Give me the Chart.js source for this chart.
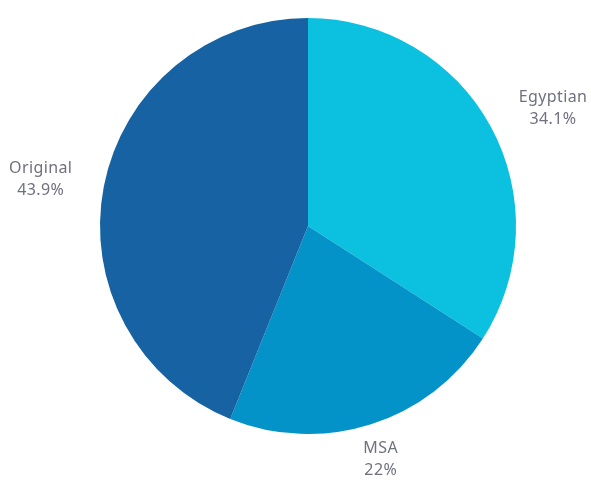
<!DOCTYPE html>
<html>
<head>
<meta charset="utf-8">
<script src="https://cdn.jsdelivr.net/npm/chart.js@4"></script>
<style>
  html, body { margin: 0; padding: 0; background: #fff; }
  #wrap { width: 591px; height: 482px; }
</style>
</head>
<body>
<div id="wrap"><canvas id="dialectChart" width="591" height="482"></canvas></div>
<script>
// Share of each dialect
const labels = ['Egyptian', 'MSA', 'Original'];
const shares = [34.1, 22, 43.9];
const colors = ['#0cc1df', '#0393c9', '#1662a2'];

// Draws "name / value%" just outside each slice, both lines centred on each other
const outsideLabels = {
    id: 'outsideLabels',
    afterDatasetsDraw(chart) {
        const ctx = chart.ctx;
        const meta = chart.getDatasetMeta(0);
        ctx.save();
        ctx.font = '16px "Noto Sans", sans-serif';
        ctx.letterSpacing = '0.4px';
        ctx.fillStyle = '#707080';
        ctx.textBaseline = 'middle';
        ctx.textAlign = 'center';
        meta.data.forEach((arc, i) => {
            const p = arc.getProps(['x', 'y', 'startAngle', 'endAngle', 'outerRadius'], true);
            const mid = (p.startAngle + p.endAngle) / 2;
            const r = p.outerRadius + 32;
            const c = Math.cos(mid);
            const s = Math.sin(mid);
            const lines = [labels[i], shares[i] + '%'];
            const w = Math.max(...lines.map(t => ctx.measureText(t).width));
            let x = p.x + c * r;
            const y = p.y + s * r + s * 5;
            if (Math.abs(c) >= 0.4) x += (c > 0 ? 1 : -1) * w / 2;
            ctx.fillText(lines[0], x, y - 11);
            ctx.fillText(lines[1], x, y + 11);
        });
        ctx.restore();
    }
};

document.addEventListener('DOMContentLoaded', function() {
    const ctx = document.getElementById('dialectChart').getContext('2d');
    new Chart(ctx, {
        type: 'pie',
        data: {
            labels: labels,
            datasets: [{
                data: shares,
                backgroundColor: colors,
                borderWidth: 0
            }]
        },
        options: {
            responsive: false,
            animation: false,
            layout: {
                padding: { left: 100, right: 75, top: 16, bottom: 46 }
            },
            plugins: {
                legend: { display: false },
                tooltip: { enabled: false }
            }
        },
        plugins: [outsideLabels]
    });
});
</script>
</body>
</html>
